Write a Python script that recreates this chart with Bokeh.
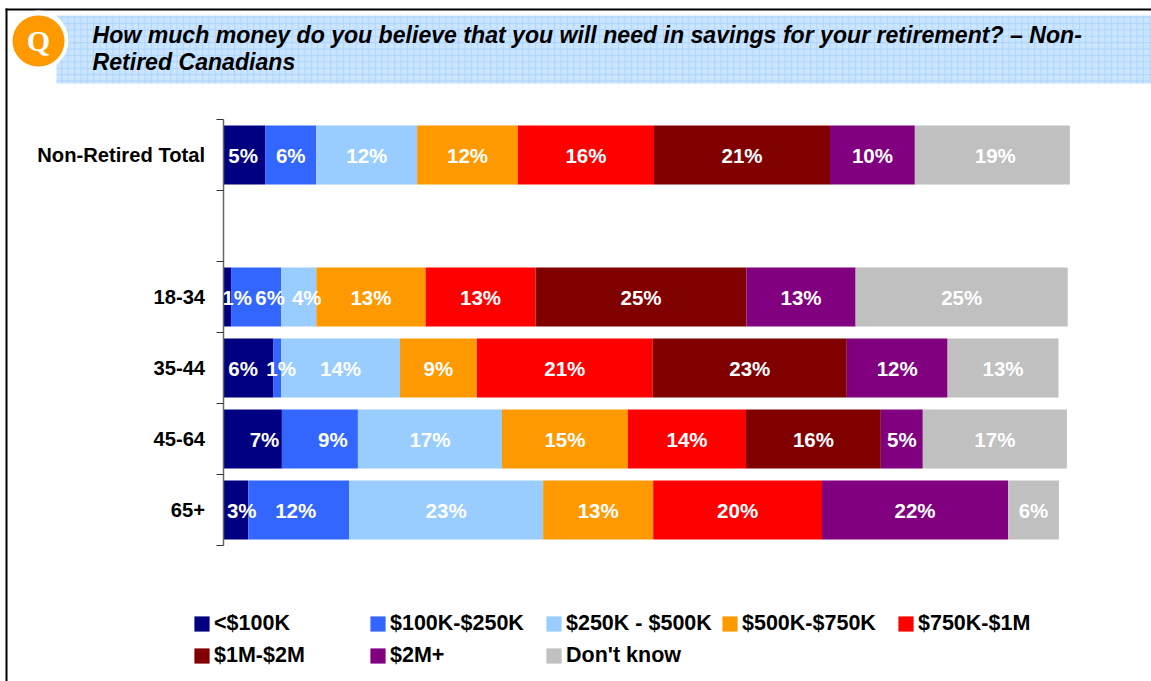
from bokeh.plotting import figure
from bokeh.models import (Range1d, FixedTicker, BoxAnnotation, Label, Legend, LegendItem,
                          ColumnDataSource)
from bokeh.core.properties import value
from bokeh.embed import file_html
from bokeh.resources import INLINE

categories = ["Non-Retired Total", "", "18-34", "35-44", "45-64", "65+"]
series = ["<$100K", "$100K-$250K", "$250K - $500K", "$500K-$750K", "$750K-$1M", "$1M-$2M", "$2M+", "Don't know"]
colors = ["#000080", "#3366FF", "#99CCFF", "#FF9900", "#FF0000", "#800000", "#800080", "#C0C0C0"]

# Values (per cent)
lt100k = [5.0, 0, 0.95, 5.95, 7.0, 3.0]
k100_250 = [6.1, 0, 5.95, 0.95, 9.05, 12.0]
k250_500 = [12.0, 0, 4.2, 14.15, 17.15, 23.1]
k500_750 = [12.0, 0, 13.0, 9.15, 15.0, 13.1]
k750_1m = [16.2, 0, 13.1, 20.95, 14.05, 20.1]
m1_2 = [20.95, 0, 25.1, 23.1, 16.05, 0]
m2plus = [10.1, 0, 13.0, 12.0, 5.0, 22.15]
dont_know = [18.45, 0, 25.25, 13.2, 17.15, 6.05]
values = [lt100k, k100_250, k250_500, k500_750, k750_1m, m1_2, m2plus, dont_know]

# Printed labels per row
labels = [
    ["5%", "6%", "12%", "12%", "16%", "21%", "10%", "19%"],
    ["", "", "", "", "", "", "", ""],
    ["1%", "6%", "4%", "13%", "13%", "25%", "13%", "25%"],
    ["6%", "1%", "14%", "9%", "21%", "23%", "12%", "13%"],
    ["7%", "9%", "17%", "15%", "14%", "16%", "5%", "17%"],
    ["3%", "12%", "23%", "13%", "20%", "", "22%", "6%"],
]
# Hand-moved labels in the reference: shift from the segment centre, in pixels
label_shift = [
    [-1, 0, 0, 0, 0, 0, 0, 3],
    [0, 0, 0, 0, 0, 0, 0, 0],
    [10, 14, 8, 0, 0, 0, 0, 0],
    [-5, 4, 0, 0, 0, 0, 0, 0],
    [12, 13, 0, 0, 0, 0, 0, 0],
    [6, -3, 0, 0, 0, 0, 0, 0],
]

W, H = 1151, 681
X0, PX_PER_PCT = 222.6, 8.4    # plot origin and horizontal scale
Y0, PX_PER_ROW = 119, 71       # top of the axis and row pitch


def dx(px):
    return (px - X0) / PX_PER_PCT


def dy(px):
    return (px - Y0) / PX_PER_ROW


p = figure(width=W, height=H, output_backend="svg", toolbar_location=None,
           x_range=Range1d(dx(0), dx(W)), y_range=Range1d(dy(H), dy(0)),
           min_border=0, outline_line_color=None, background_fill_color="white", border_fill_color="white")
p.styles = {"position": "absolute", "left": "0px", "top": "0px"}
p.xaxis.visible = False
p.grid.visible = False

rows = [i + 0.5 for i in range(len(categories))]
src = {"y": rows}
for name, vals in zip(series, values):
    src[name] = vals
source = ColumnDataSource(src)
rs = p.hbar_stack(series, y="y", height=0.83, color=colors, line_color=None, source=source)

tx, ty, tt, ts = [], [], [], []
for r, y in enumerate(rows):
    left = 0
    for s in range(len(series)):
        v = values[s][r]
        if labels[r][s]:
            tx.append(left + v / 2)
            ty.append(y)
            tt.append(labels[r][s])
            ts.append(label_shift[r][s])
        left += v
p.text(x=tx, y=ty, text=tt, x_offset=ts, text_color="white", text_align="center", text_baseline="middle",
       text_font=value("Liberation Sans"), text_font_style="bold", text_font_size="20.5px")

ax = p.yaxis[0]
ax.fixed_location = 0
ax.bounds = (0, len(categories))
ax.ticker = FixedTicker(ticks=rows, minor_ticks=list(range(len(categories) + 1)))
ax.major_label_overrides = {r: c for r, c in zip(rows, categories)}
ax.major_tick_line_color = None
ax.major_tick_in = 0
ax.major_tick_out = 0
ax.minor_tick_in = 0
ax.minor_tick_out = 7
ax.minor_tick_line_color = "#333333"
ax.minor_tick_line_width = 1
ax.axis_line_color = "#666666"
ax.axis_line_width = 1.5
ax.major_label_standoff = 11
ax.major_label_text_font = "Liberation Sans"
ax.major_label_text_font_style = "bold"
ax.major_label_text_font_size = "20.2px"
ax.major_label_text_color = "black"

legend = Legend(items=[LegendItem(label=n, renderers=[r]) for n, r in zip(series, rs)],
                ncols=5, location=(192, 13), orientation="horizontal",
                glyph_width=19, glyph_height=19, label_standoff=3, label_width=147, label_height=19,
                spacing=7, padding=0, margin=0, border_line_color=None, background_fill_alpha=0,
                label_text_font="Liberation Sans", label_text_font_style="bold",
                label_text_font_size="21.5px", label_text_color="black")
p.add_layout(legend, "center")


def box(l, r, t, b, **kw):
    return BoxAnnotation(left=dx(l), right=dx(r), top=dy(t), bottom=dy(b), line_color=None, level="overlay", **kw)


p.add_layout(box(5, 7, 8, H, fill_color="black", fill_alpha=1))
p.add_layout(box(5, W, 8, 10, fill_color="black", fill_alpha=1))
p.add_layout(box(56, W, 15, 83, fill_color="#CCE5FF", fill_alpha=1,
                 hatch_pattern="cross", hatch_color="#99CCFF", hatch_alpha=0.6, hatch_scale=6.4, hatch_weight=1))
p.add_layout(box(8, 68, 10, 70, fill_color="white", fill_alpha=1, border_radius=30))
p.add_layout(box(12, 64, 15, 66, fill_color="#FF9900", fill_alpha=1, border_radius=26))

title_kw = dict(x_units="canvas", y_units="canvas", text_font="Liberation Sans", text_font_style="bold italic",
                text_font_size="23.1px", text_color="black", text_baseline="alphabetic", level="overlay")
p.add_layout(Label(x=92, y=34, text="How much money do you believe that you will need in savings for your retirement? – Non-", **title_kw))
p.add_layout(Label(x=92, y=61, text="Retired Canadians", **title_kw))
p.add_layout(Label(x=38, y=40, text="Q", x_units="canvas", y_units="canvas", text_font="Liberation Serif",
                   text_font_style="bold", text_font_size="30px", text_color="white", text_align="center",
                   text_baseline="alphabetic", level="overlay"))

open("out.html", "w").write(file_html(p, INLINE))
